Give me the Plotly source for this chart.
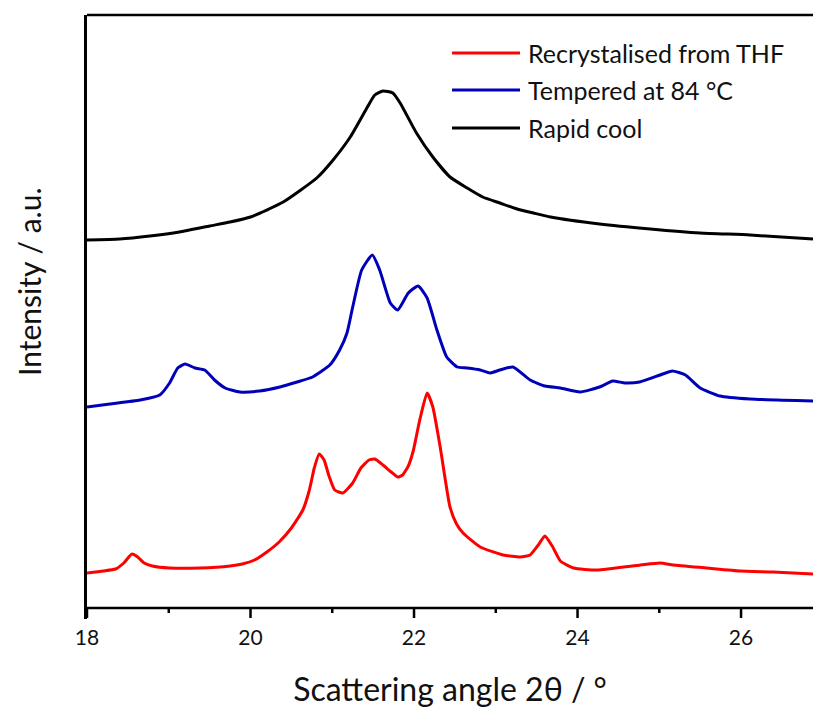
import plotly.graph_objects as go

# ---- data (2θ in degrees, intensity in arbitrary units, offset stacked) ----
thf_x = [18.00, 18.20, 18.35, 18.45, 18.55, 18.62, 18.70, 18.80, 19.01, 19.38, 19.75, 19.90,
         20.05, 20.20, 20.35, 20.50, 20.64, 20.72, 20.78, 20.84, 20.90, 20.96, 21.03, 21.13,
         21.25, 21.35, 21.45, 21.52, 21.62, 21.72, 21.80, 21.86, 21.93, 21.99, 22.07, 22.16,
         22.23, 22.32, 22.44, 22.52, 22.60, 22.81, 23.09, 23.30, 23.42, 23.52, 23.60, 23.69,
         23.79, 23.95, 24.24, 24.77, 25.01, 25.17, 25.58, 25.99, 26.39, 26.88]
thf_y = [35, 37, 39, 45, 54, 51, 45, 42, 40, 40, 42, 44,
         48, 56, 66, 80, 98, 118, 140, 154, 148, 132, 118, 115,
         125, 140, 148, 149, 143, 136, 131, 133, 142, 157, 188, 215,
         201, 161, 101, 84, 75, 61, 53, 51, 53, 63, 72, 62,
         47, 40, 38, 43, 45, 43, 40, 37, 36, 34]

temp_x = [18.00, 18.28, 18.65, 18.89, 19.01, 19.11, 19.20, 19.32, 19.44, 19.56, 19.69, 19.87,
          20.11, 20.36, 20.57, 20.76, 20.97, 21.09, 21.18, 21.25, 21.36, 21.49, 21.58, 21.71,
          21.80, 21.93, 22.05, 22.16, 22.28, 22.40, 22.53, 22.65, 22.81, 22.93, 23.05, 23.21,
          23.42, 23.60, 23.79, 24.03, 24.27, 24.43, 24.58, 24.76, 25.01, 25.16, 25.32, 25.50,
          25.74, 26.11, 26.88]
temp_y = [201, 204, 208, 213, 225, 240, 244, 240, 238, 228, 220, 216,
          217, 221, 226, 231, 243, 258, 275, 301, 338, 353, 338, 305,
          298, 315, 322, 310, 278, 251, 241, 240, 238, 235, 238, 241,
          228, 222, 220, 216, 221, 227, 225, 226, 233, 237, 233, 220,
          212, 209, 207]

rapid_x = [18.00, 18.40, 18.77, 19.13, 19.50, 19.75, 20.00, 20.40, 20.81, 21.01, 21.22, 21.43,
           21.52, 21.62, 21.74, 21.83, 22.03, 22.23, 22.44, 22.65, 22.84, 23.05, 23.26, 23.46,
           23.67, 24.27, 24.89, 25.50, 26.11, 26.88]
rapid_y = [368, 369, 372, 376, 382, 386, 391, 406, 430, 448, 471, 501,
           513, 517, 515, 505, 475, 451, 431, 420, 411, 405, 399, 395,
           391, 384, 379, 375, 373, 369]

series_names = ["Recrystalised from THF", "Tempered at 84 °C", "Rapid cool"]
series_colors = ["#FF0000", "#0000B8", "#000000"]
major_ticks = [18, 20, 22, 24, 26]
minor_ticks = [19, 21, 23, 25]
x_range = [18, 26.88]
y_range = [-11, 593]   # the band below 0 holds the outward tick marks

FONT = "Lato"
MAJOR_LEN, MINOR_LEN = 10, 5   # in y units (1 unit = 1 px here)

fig = go.Figure()
for xs, ys, name, col in zip([thf_x, temp_x, rapid_x], [thf_y, temp_y, rapid_y],
                             series_names, series_colors):
    fig.add_trace(go.Scatter(x=xs, y=ys, mode="lines", name=name,
                             line=dict(color=col, width=3, shape="spline", smoothing=0.5),
                             showlegend=False))

# outward tick marks built from the tick lists, drawn as a separated line trace
tick_x, tick_y = [], []
for tick_list, tlen in ((major_ticks, MAJOR_LEN), (minor_ticks, MINOR_LEN)):
    for tv in tick_list:
        tick_x += [tv, tv, None]
        tick_y += [0, -tlen, None]
fig.add_trace(go.Scatter(x=tick_x, y=tick_y, mode="lines", line=dict(color="black", width=2.5),
                         showlegend=False, hoverinfo="skip", connectgaps=False))

# bottom axis line at y = 0
fig.add_shape(type="line", xref="x", yref="y", x0=x_range[0], x1=x_range[1], y0=0, y1=0,
              line=dict(color="black", width=2.5), layer="above")
# top frame line
fig.add_shape(type="line", xref="paper", yref="paper", x0=0, x1=1, y0=1, y1=1,
              line=dict(color="black", width=2.5), layer="above")

# manual legend (long line samples like the reference)
leg_y = [0.937, 0.8758, 0.8129]
for name, col, yy in zip(series_names, series_colors, leg_y):
    fig.add_shape(type="line", xref="paper", yref="paper", x0=0.5028, x1=0.5964, y0=yy, y1=yy,
                  line=dict(color=col, width=3))
    fig.add_annotation(xref="paper", yref="paper", x=0.604, y=yy, text=name, showarrow=False,
                       xanchor="left", yanchor="middle",
                       font=dict(family=FONT, size=25, color="#111111"))

# y-axis title
fig.add_annotation(xref="paper", yref="paper", x=-0.08, y=0.558, text="Intensity / a.u.",
                   textangle=-90, showarrow=False, xanchor="center", yanchor="middle",
                   font=dict(family=FONT, size=30, color="#111111"))

fig.update_layout(
    width=813, height=711,
    margin=dict(l=87, r=0, t=15, b=92),
    paper_bgcolor="white", plot_bgcolor="white",
    font=dict(family=FONT, color="#111111"),
    xaxis=dict(range=x_range, tickmode="array", tickvals=major_ticks, ticks="",
               showline=False, showgrid=False, zeroline=False, ticklabelstandoff=4,
               tickfont=dict(family=FONT, size=21),
               title=dict(text="Scattering angle 2θ / °", font=dict(family=FONT, size=32),
                          standoff=30)),
    yaxis=dict(range=y_range, showticklabels=False, ticks="", showline=True, linecolor="black",
               linewidth=2.5, mirror=False, showgrid=False, zeroline=False),
)

fig.write_html("out.html")
